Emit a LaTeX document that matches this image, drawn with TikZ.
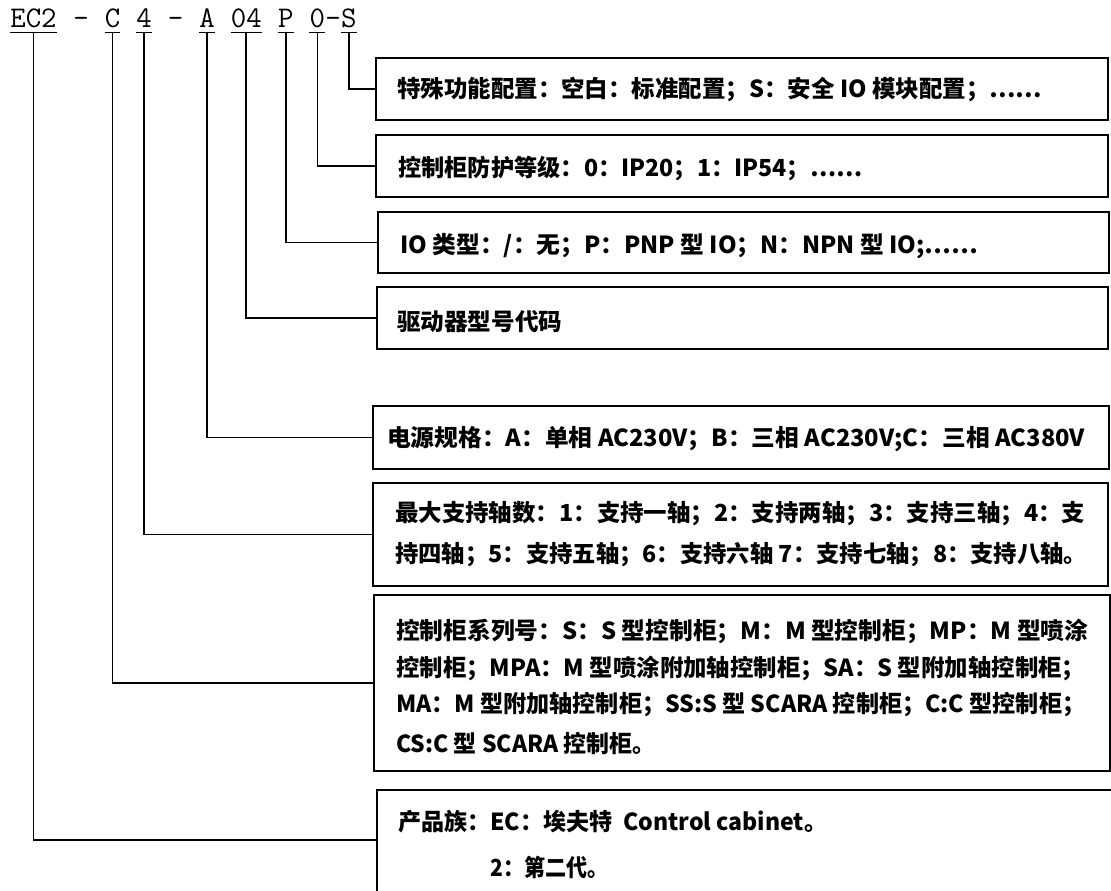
\documentclass[tikz,border=0pt]{standalone}
\usepackage{fontspec}
\usepackage{graphicx}
\newfontfamily\cjk{Noto Sans CJK SC}
\newcommand\fitw[2]{\resizebox{#1pt}{\height}{#2}}
\begin{document}
\begin{tikzpicture}[x=1pt,y=-1pt,
  box/.style={draw, line width=1.6pt, outer sep=0pt, inner sep=0pt, anchor=north west},
  txt/.style={inner sep=0pt, anchor=west, font=\cjk\bfseries\fontsize{23.5}{28}\selectfont},
  code/.style={inner xsep=0pt, inner ysep=4pt, text depth=0pt, anchor=base west, font=\ttfamily\fontsize{30}{30}\selectfont},
  conn/.style={line width=1.6pt}]
\clip (0,0) rectangle (1111,891);
\fill[white] (0,0) rectangle (1111,891);
% code groups
\node[code] (g1) at (10.125,28) {EC2};
\node[code] (d1) at (73.125,28) {-};
\node[code] (g2) at (104.625,28) {C};
\node[code] (g3) at (136.125,28) {4};
\node[code] (d2) at (167.625,28) {-};
\node[code] (g4) at (199.125,28) {A};
\node[code] (g5) at (230.625,28) {04};
\node[code] (g6) at (277.875,28) {P};
\node[code] (g7) at (309.375,28) {0};
\node[code] (d3) at (325.125,28) {-};
\node[code] (g8) at (340.875,28) {S};
\foreach \g in {g1,g2,g3,g4,g5,g6,g7,g8}
  \draw[line width=1.2pt] (\g.south west) -- (\g.south east);
% boxes
\node[box, minimum width=732, minimum height=62] (b1) at (376,58) {};
\node[box, minimum width=732, minimum height=62] (b2) at (376,135) {};
\node[box, minimum width=731, minimum height=61] (b3) at (378,212) {};
\node[box, minimum width=731, minimum height=62] (b4) at (377,287) {};
\node[box, minimum width=736, minimum height=63] (b5) at (373,406) {};
\node[box, minimum width=735, minimum height=103] (b6) at (373,483) {};
\node[box, minimum width=736, minimum height=176] (b7) at (374,595) {};
\node[box, minimum width=760, minimum height=130] (b8) at (377,790) {};
\path (b8.north west) ++(0,50) coordinate (b8in);
% texts
\node[txt] (t1) at (397,89) {\fitw{645}{特殊功能配置：空白：标准配置；S：安全 IO 模块配置；……}};
\node[txt] (t2) at (398,169) {\fitw{464}{控制柜防护等级：0：IP20；1：IP54；……}};
\node[txt] (t3) at (400,246) {\fitw{578}{IO 类型：/：无；P：PNP 型 IO；N：NPN 型 IO;……}};
\node[txt] (t4) at (397,322) {\fitw{165}{驱动器型号代码}};
\node[txt] (t5) at (387,439) {\fitw{698}{电源规格：A：单相 AC230V；B：三相 AC230V;C：三相 AC380V}};
\node[txt] (t6a) at (395,514) {\fitw{690}{最大支持轴数：1：支持一轴；2：支持两轴；3：支持三轴；4：支}};
\node[txt] (t6b) at (395,555) {\fitw{692}{持四轴；5：支持五轴；6：支持六轴 7：支持七轴；8：支持八轴。}};
\node[txt] (t7a) at (396,631) {\fitw{692}{控制柜系列号：S：S 型控制柜；M：M 型控制柜；MP：M 型喷涂}};
\node[txt] (t7b) at (396,668) {\fitw{689}{控制柜；MPA：M 型喷涂附加轴控制柜；SA：S 型附加轴控制柜；}};
\node[txt] (t7c) at (396,705) {\fitw{689}{MA：M 型附加轴控制柜；SS:S 型 SCARA 控制柜；C:C 型控制柜；}};
\node[txt] (t7d) at (396,743) {\fitw{259}{CS:C 型 SCARA 控制柜。}};
\node[txt] (t8a) at (398,822) {\fitw{429}{产品族：EC：埃夫特\ \ Control cabinet。}};
\node[txt] (t8b) at (490,867) {\fitw{118}{2：第二代。}};
% connectors
\draw[conn] (g8.south) |- (b1.west);
\draw[conn] (g7.south) |- (b2.west);
\draw[conn] (g6.south) |- (b3.west);
\draw[conn] (g5.south) |- (b4.west);
\draw[conn] (g4.south) |- (b5.west);
\draw[conn] (g3.south) |- (b6.west);
\draw[conn] (g2.south) |- (b7.west);
\draw[conn] (g1.south) |- (b8in);
\end{tikzpicture}
\end{document}
